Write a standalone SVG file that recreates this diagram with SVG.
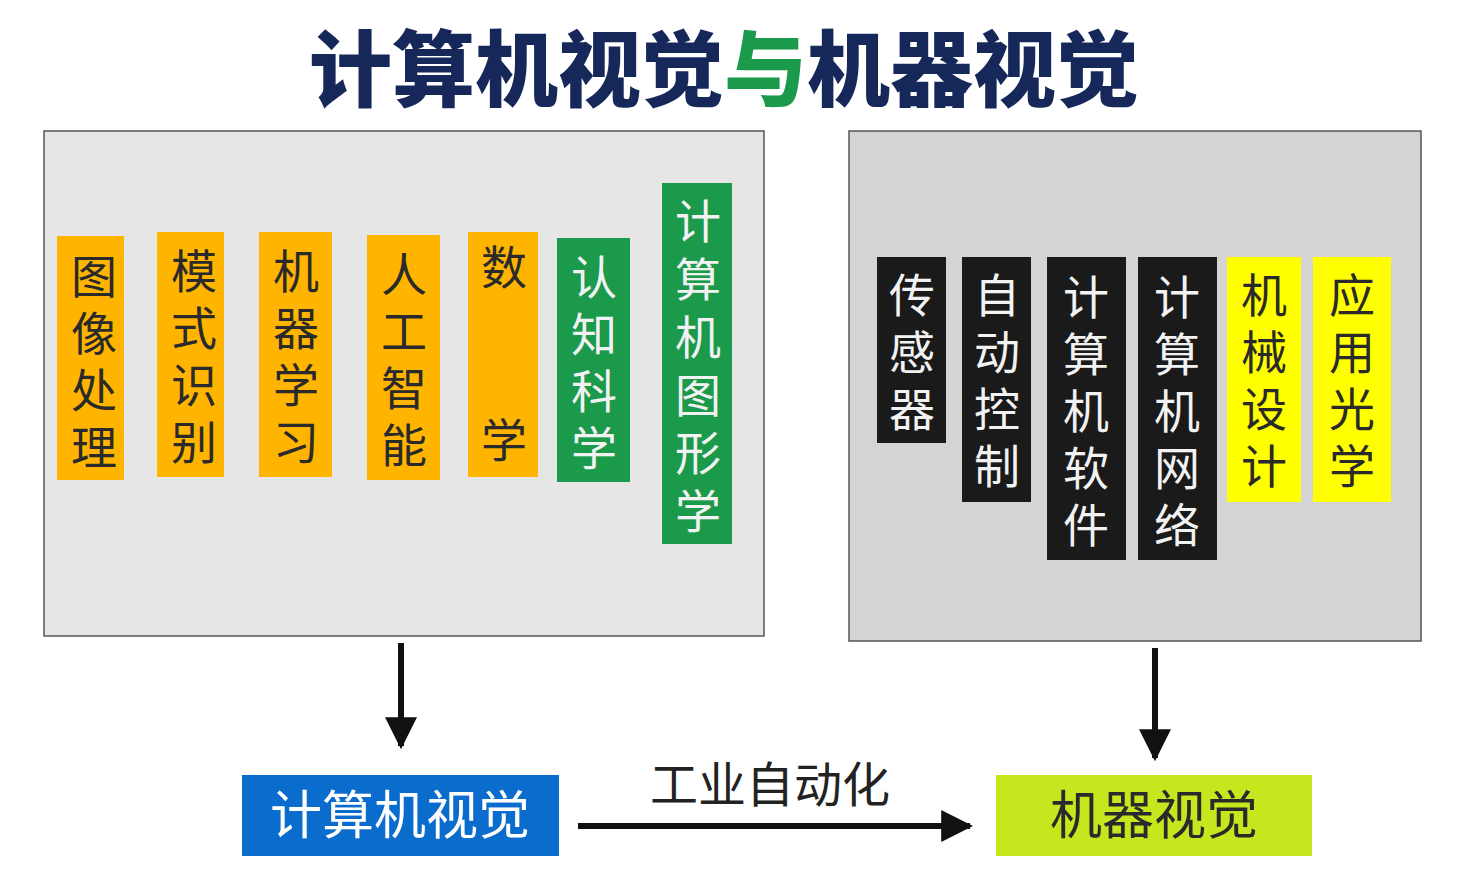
<svg xmlns="http://www.w3.org/2000/svg" width="1477" height="891" viewBox="0 0 1477 891">
<style>
.t{font-family:"Noto Sans CJK SC","Noto Sans",sans-serif;font-size:46px;text-anchor:middle}
.dk{fill:#2a2a2a}
.wt{fill:#f2f2f2}
.panel{stroke:#555;stroke-width:1.5}
</style>
<defs>
<marker id="ah" markerWidth="10" markerHeight="10" refX="7" refY="5" orient="auto" markerUnits="userSpaceOnUse" viewBox="0 0 10 10"><path d="M0,0 L10,5 L0,10 z" fill="#111"/></marker>
<marker id="ab" viewBox="0 0 10 10" refX="9" refY="5" markerWidth="32" markerHeight="32" markerUnits="userSpaceOnUse" orient="auto"><path d="M0,0 L10,5 L0,10 z" fill="#111"/></marker>
</defs>
<rect width="1477" height="891" fill="#fff"/>
<text x="724" y="100" style="font-family:'Noto Sans CJK SC',sans-serif;font-size:83px;font-weight:900;text-anchor:middle" fill="#16285a">计算机视觉<tspan fill="#1a9a4a">与</tspan>机器视觉</text>

<g id="left-panel"><rect class="panel" x="44" y="131" width="720" height="505" fill="#e6e6e6"/></g>
<g id="right-panel"><rect class="panel" x="849" y="131" width="572" height="510" fill="#d4d4d4"/></g>

<g id="n1"><rect x="57" y="236" width="67" height="244" fill="#ffb400"/><text class="t dk" x="94" y="293">图<tspan x="94" dy="57">像</tspan><tspan x="94" dy="57">处</tspan><tspan x="94" dy="57">理</tspan></text></g>
<g id="n2"><rect x="157" y="232" width="67" height="245" fill="#ffb400"/><text class="t dk" x="194" y="288">模<tspan x="194" dy="57">式</tspan><tspan x="194" dy="57">识</tspan><tspan x="194" dy="57">别</tspan></text></g>
<g id="n3"><rect x="259" y="232" width="73" height="245" fill="#ffb400"/><text class="t dk" x="296" y="288">机<tspan x="296" dy="57">器</tspan><tspan x="296" dy="57">学</tspan><tspan x="296" dy="57">习</tspan></text></g>
<g id="n4"><rect x="367" y="235" width="73" height="245" fill="#ffb400"/><text class="t dk" x="404" y="291">人<tspan x="404" dy="57">工</tspan><tspan x="404" dy="57">智</tspan><tspan x="404" dy="57">能</tspan></text></g>
<g id="n5"><rect x="468" y="232" width="70" height="245" fill="#ffb400"/><text class="t dk" x="504" y="284">数</text><text class="t dk" x="504" y="457">学</text></g>
<g id="n6"><rect x="557" y="238" width="73" height="244" fill="#1a9a4a"/><text class="t wt" x="594" y="294">认<tspan x="594" dy="57">知</tspan><tspan x="594" dy="57">科</tspan><tspan x="594" dy="57">学</tspan></text></g>
<g id="n7"><rect x="662" y="183" width="70" height="361" fill="#1a9a4a"/><text class="t wt" x="698" y="238">计<tspan x="698" dy="58">算</tspan><tspan x="698" dy="58">机</tspan><tspan x="698" dy="58">图</tspan><tspan x="698" dy="58">形</tspan><tspan x="698" dy="58">学</tspan></text></g>

<g id="m1"><rect x="877" y="257" width="69" height="186" fill="#1a1a1a"/><text class="t wt" x="912" y="312">传<tspan x="912" dy="57">感</tspan><tspan x="912" dy="57">器</tspan></text></g>
<g id="m2"><rect x="962" y="257" width="69" height="245" fill="#1a1a1a"/><text class="t wt" x="997" y="312">自<tspan x="997" dy="57">动</tspan><tspan x="997" dy="57">控</tspan><tspan x="997" dy="57">制</tspan></text></g>
<g id="m3"><rect x="1047" y="257" width="79" height="303" fill="#1a1a1a"/><text class="t wt" x="1086" y="314">计<tspan x="1086" dy="57">算</tspan><tspan x="1086" dy="57">机</tspan><tspan x="1086" dy="57">软</tspan><tspan x="1086" dy="57">件</tspan></text></g>
<g id="m4"><rect x="1138" y="257" width="79" height="303" fill="#1a1a1a"/><text class="t wt" x="1177" y="314">计<tspan x="1177" dy="57">算</tspan><tspan x="1177" dy="57">机</tspan><tspan x="1177" dy="57">网</tspan><tspan x="1177" dy="57">络</tspan></text></g>
<g id="m5"><rect x="1227" y="257" width="74" height="245" fill="#ffff00"/><text class="t dk" x="1264" y="312">机<tspan x="1264" dy="57">械</tspan><tspan x="1264" dy="57">设</tspan><tspan x="1264" dy="57">计</tspan></text></g>
<g id="m6"><rect x="1313" y="257" width="78" height="245" fill="#ffff00"/><text class="t dk" x="1352" y="312">应<tspan x="1352" dy="57">用</tspan><tspan x="1352" dy="57">光</tspan><tspan x="1352" dy="57">学</tspan></text></g>

<g id="cv"><rect x="242" y="775" width="317" height="81" fill="#0a6ccc"/><text class="t" x="400" y="834" style="font-size:52px" fill="#fff">计算机视觉</text></g>
<g id="mv"><rect x="996" y="775" width="316" height="81" fill="#c8e61e"/><text class="t" x="1154" y="834" style="font-size:52px" fill="#2a2a2a">机器视觉</text></g>

<g id="connectors" stroke="#111" stroke-width="6" fill="none">
<line x1="401" y1="643" x2="401" y2="746" marker-end="url(#ab)"/>
<line x1="1155" y1="648" x2="1155" y2="758" marker-end="url(#ab)"/>
<line x1="578" y1="826" x2="970" y2="826" marker-end="url(#ab)"/>
</g>
<text class="t" x="770" y="802" style="font-size:48px" fill="#222">工业自动化</text>
</svg>
